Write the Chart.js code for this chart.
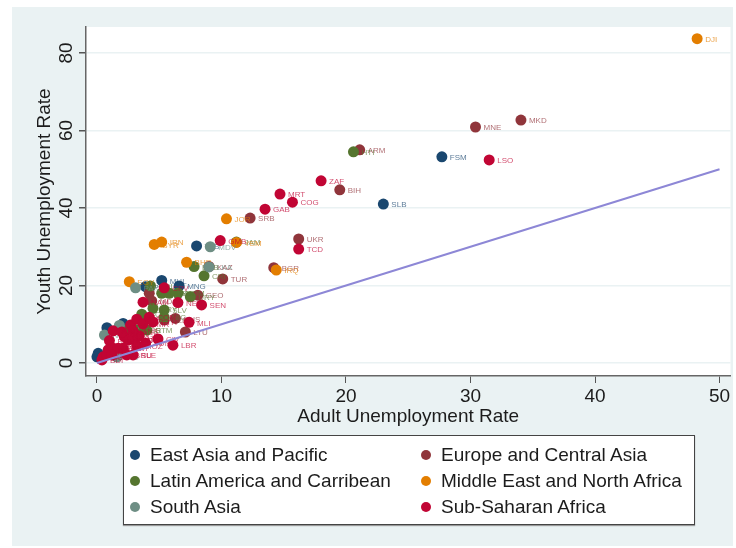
<!DOCTYPE html>
<html>
<head>
<meta charset="utf-8">
<script src="https://cdn.jsdelivr.net/npm/chart.js@4/dist/chart.umd.min.js"></script>
<style>
html,body{margin:0;padding:0;background:#fff;width:736px;height:548px;overflow:hidden;font-family:"Liberation Sans",Arial,sans-serif;}
#panel{position:absolute;left:12px;top:7px;width:721px;height:539px;background:#eaf2f3;}
#wrap{position:absolute;left:0;top:0;width:736px;height:548px;filter:blur(0.5px);}
#legend{position:absolute;left:123px;top:435px;width:570px;height:88px;background:#fff;border:1px solid #444;box-shadow:0 1px 1px #999;}
.item{position:absolute;font-size:19px;line-height:22px;color:#1c1c1c;white-space:nowrap;}
.dot{position:absolute;left:-20px;top:6px;width:10px;height:10px;border-radius:50%;}
</style>
</head>
<body>
<div id="panel"></div>
<div id="wrap"><canvas id="c" width="736" height="548"></canvas><div id="legend"></div></div>
<script>
const xAxisTicks = [0, 10, 20, 30, 40, 50];
const yAxisTicks = [0, 20, 40, 60, 80];
const seriesNames = ["East Asia and Pacific", "Europe and Central Asia", "Latin America and Carribean", "Middle East and North Africa", "South Asia", "Sub-Saharan Africa"];
const seriesColors = ["#1a476f", "#90353b", "#55752f", "#e37e00", "#6e8e84", "#c10534"];

const eapX = [27.7, 23.0, 8.0, 5.2, 6.6, 3.9, 2.1, 0.8, 0.1, 0.0];
const eapY = [53.2, 41.0, 30.2, 21.3, 19.9, 19.7, 10.2, 9.1, 2.5, 1.6];
const eapCodes = ["FSM", "SLB", "TLS", "MHL", "MNG", "PHL", "IDN", "VNM", "LAO", "KHM"];

const ecaX = [34.05, 30.4, 21.1, 19.5, 12.3, 16.2, 9.0, 10.1, 14.2, 8.1, 4.2, 4.4, 6.3, 7.1, 5.4];
const ecaY = [62.7, 60.9, 55.0, 44.7, 37.4, 32.0, 24.9, 21.7, 24.6, 17.5, 18.0, 16.0, 11.5, 8.0, 11.1];
const ecaCodes = ["MKD", "MNE", "ARM", "BIH", "SRB", "UKR", "KAZ", "TUR", "BGR", "GEO", "ALB", "MDA", "RUS", "LTU", "BLR"];

const lacX = [20.6, 11.2, 7.8, 8.6, 4.3, 5.2, 5.8, 6.5, 7.5, 4.5, 5.4, 3.6, 5.4, 2.4, 3.2, 4.0];
const lacY = [54.5, 31.2, 24.9, 22.5, 19.9, 18.0, 18.0, 18.0, 17.1, 14.1, 13.7, 12.6, 11.8, 8.5, 8.5, 8.5];
const lacCodes = ["HTI", "JAM", "BRB", "CRI", "COL", "GUY", "ARG", "DOM", "URY", "PRY", "SLV", "BOL", "NIC", "MEX", "PER", "GTM"];

const menaX = [48.2, 10.4, 5.2, 4.6, 14.4, 11.2, 7.2, 2.6];
const menaY = [83.7, 37.2, 31.2, 30.6, 24.0, 31.1, 26.0, 21.0];
const menaCodes = ["DJI", "JOR", "IRN", "SYR", "IRQ", "YEM", "BHR", "EGY"];

const saX = [9.1, 3.1, 1.8, 0.6, 1.6, 9.0];
const saY = [30.0, 19.4, 9.7, 7.2, 1.6, 24.8];
const saCodes = ["MDV", "PAK", "BTN", "NPL", "IND", "LKA"];

const ssaX = [31.5, 18.0, 14.7, 15.7, 13.5, 16.2, 9.9, 5.4, 3.7, 6.5, 8.4, 7.4, 4.9, 6.1, 2.9, 1.3, 1.0, 2.7, 3.2, 3.7, 4.2, 4.5, 2.2, 3.4, 2.5, 2.9, 3.2, 2.1, 1.3, 0.9, 1.7, 0.5, 0.4, 0.8, 1.2, 2.4, 3.9, 2.0, 2.9];
const ssaY = [52.4, 47.0, 43.6, 41.5, 39.7, 29.4, 31.6, 19.4, 15.7, 15.6, 15.0, 10.5, 6.2, 4.6, 2.1, 8.3, 5.8, 9.8, 11.3, 10.1, 11.8, 10.6, 6.8, 7.0, 5.9, 6.1, 4.5, 3.8, 3.8, 3.4, 3.8, 1.6, 0.8, 2.1, 2.1, 2.1, 5.1, 8.0, 8.3];
const ssaCodes = ["LSO", "ZAF", "MRT", "COG", "GAB", "TCD", "GMB", "CPV", "NAM", "NER", "SEN", "MLI", "CIV", "LBR", "SLE", "AGO", "BEN", "BFA", "CAF", "CMR", "COM", "ETH", "GHA", "GIN", "KEN", "MDG", "MOZ", "MWI", "RWA", "TGO", "TZA", "UGA", "BDI", "ZMB", "ZWE", "BRU", "SDN", "NGA", "GNB"];

const equalLineX = [0, 50];
const equalLineY = [0, 50];

const xs = [eapX, ecaX, lacX, menaX, saX, ssaX];
const ys = [eapY, ecaY, lacY, menaY, saY, ssaY];
const codes = [eapCodes, ecaCodes, lacCodes, menaCodes, saCodes, ssaCodes];

const datasets = seriesNames.map((name, i) => ({
  label: name,
  data: xs[i].map((x, j) => ({ x, y: ys[i][j] })),
  backgroundColor: seriesColors[i],
  borderWidth: 0,
  pointRadius: 5.5,
  pointHoverRadius: 5.5,
  showLine: false,
  order: 7 - i
}));
datasets.push({
  label: "Equal",
  data: equalLineX.map((x, j) => ({ x, y: equalLineY[j] })),
  borderColor: "#8d87d6",
  borderWidth: 2,
  pointRadius: 0,
  showLine: true,
  order: 0
});

const plotBackground = {
  id: "plotBackground",
  beforeDraw(chart) {
    const a = chart.chartArea;
    chart.ctx.save();
    chart.ctx.fillStyle = "#fff";
    chart.ctx.fillRect(a.left, a.top, a.right - a.left, a.bottom - a.top);
    chart.ctx.restore();
  }
};

const codeLabels = {
  id: "codeLabels",
  afterDatasetDraw(chart, args) {
    const i = args.index;
    if (i >= codes.length) return;
    const ctx = chart.ctx;
    ctx.save();
    ctx.font = '8px "Liberation Sans", Arial, sans-serif';
    ctx.textAlign = "left";
    ctx.textBaseline = "middle";
    ctx.globalAlpha = 0.72;
    ctx.fillStyle = seriesColors[i];
    const meta = chart.getDatasetMeta(i);
    codes[i].forEach((code, j) => {
      const el = meta.data[j];
      ctx.fillText(code, el.x + 8, el.y + 1);
    });
    ctx.restore();
  }
};

new Chart(document.getElementById("c"), {
  type: "scatter",
  data: { datasets },
  plugins: [plotBackground, codeLabels],
  options: {
    responsive: false,
    animation: false,
    events: [],
    layout: { padding: { left: 0, right: 3, top: 27, bottom: 0 } },
    plugins: { legend: { display: false }, tooltip: { enabled: false } },
    scales: {
      x: {
        type: "linear",
        min: -0.88,
        max: 50.88,
        afterBuildTicks(s) { s.ticks = xAxisTicks.map(v => ({ value: v })); },
        afterFit(s) { s.height = 172; },
        border: { display: true, color: "#666", width: 1.5 },
        grid: { drawOnChartArea: false, color: "#555", tickLength: 7, lineWidth: 1 },
        ticks: { color: "#1c1c1c", font: { family: "Liberation Sans", size: 19 }, padding: 2, maxRotation: 0, autoSkip: false },
        title: { display: true, text: "Adult Unemployment Rate", color: "#1c1c1c", font: { family: "Liberation Sans", size: 19 }, padding: { top: 0, bottom: 120 } }
      },
      y: {
        type: "linear",
        min: -3.35,
        max: 86.7,
        afterBuildTicks(s) { s.ticks = yAxisTicks.map(v => ({ value: v })); },
        afterFit(s) { s.width = 86; },
        border: { display: true, color: "#666", width: 1.5 },
        grid: { color: "#eaf2f3", lineWidth: 1.5, tickColor: "#555", tickLength: 7 },
        ticks: { color: "#1c1c1c", font: { family: "Liberation Sans", size: 19 }, padding: 2, minRotation: 90, maxRotation: 90, crossAlign: "center", autoSkip: false },
        title: { display: true, text: "Youth Unemployment Rate", color: "#1c1c1c", font: { family: "Liberation Sans", size: 19 }, padding: { top: 33, bottom: 0 } }
      }
    }
  }
});

const legend = document.getElementById("legend");
const legendLeft = [26, 317];
const legendTop = [8, 34, 60];
seriesNames.forEach((name, i) => {
  const item = document.createElement("div");
  item.className = "item";
  item.style.left = legendLeft[i % 2] + "px";
  item.style.top = legendTop[Math.floor(i / 2)] + "px";
  item.textContent = name;
  const dot = document.createElement("span");
  dot.className = "dot";
  dot.style.background = seriesColors[i];
  item.appendChild(dot);
  legend.appendChild(item);
});
</script>
</body>
</html>
